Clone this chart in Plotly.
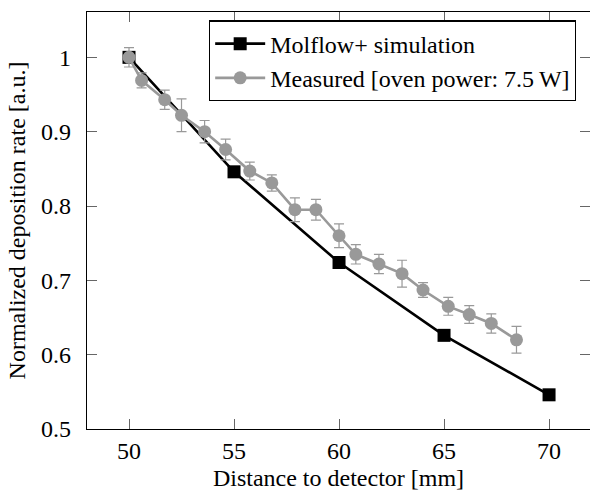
import plotly.graph_objects as go

# Simulation data
sim_x = [50, 55, 60, 65, 70]
sim_y = [1.0, 0.846, 0.724, 0.626, 0.546]

# Measured data
meas_x = [50.0, 50.6, 51.7, 52.5, 53.6, 54.6, 55.75, 56.8, 57.9, 58.9, 60.0,
          60.8, 61.9, 63.0, 64.0, 65.2, 66.2, 67.25, 68.45]
meas_y = [1.0, 0.969, 0.943, 0.922, 0.900, 0.876, 0.847, 0.831, 0.795, 0.795, 0.760,
          0.735, 0.722, 0.709, 0.687, 0.665, 0.654, 0.642, 0.620]
meas_err = [0.013, 0.010, 0.013, 0.022, 0.015, 0.014, 0.012, 0.011, 0.016, 0.014, 0.016,
            0.013, 0.013, 0.018, 0.010, 0.012, 0.012, 0.013, 0.018]

x_ticks = [50, 55, 60, 65, 70]
y_ticks = [0.5, 0.6, 0.7, 0.8, 0.9, 1.0]
y_tick_text = ["0.5", "0.6", "0.7", "0.8", "0.9", "1"]

FONT = "Liberation Serif"
GRAY = "#999999"
Y_RANGE = [0.5, 1.061]

fig = go.Figure()
fig.add_trace(go.Scatter(
    x=sim_x, y=sim_y, mode="lines+markers", name="Molflow+ simulation",
    line=dict(color="black", width=2.6),
    marker=dict(symbol="square", size=13, color="black"),
))
fig.add_trace(go.Scatter(
    x=meas_x, y=meas_y, mode="lines+markers", name="Measured [oven power: 7.5\u2009W]",
    line=dict(color=GRAY, width=2.6),
    marker=dict(symbol="circle", size=13, color=GRAY),
    error_y=dict(type="data", array=meas_err, visible=True, color=GRAY,
                 thickness=1.2, width=5),
))
# empty trace so the right-side tick axis is drawn
fig.add_trace(go.Scatter(x=[], y=[], yaxis="y2", showlegend=False, hoverinfo="skip"))

tick_style = dict(ticks="inside", ticklen=10, tickwidth=1, tickcolor="#666666",
                  showgrid=False, zeroline=False, automargin=False)

fig.update_layout(
    width=590, height=491,
    margin=dict(l=87, r=0, t=12, b=62),
    plot_bgcolor="white", paper_bgcolor="white",
    font=dict(family=FONT, size=24, color="black"),
    showlegend=True,
    legend=dict(
        x=0.2425, y=0.98, xanchor="left", yanchor="top",
        bordercolor="black", borderwidth=1.2, bgcolor="white",
        font=dict(family=FONT, size=24, color="black"),
        itemwidth=50, traceorder="normal", tracegroupgap=0,
    ),
    xaxis=dict(
        range=[48, 71.95], tickvals=x_ticks,
        showline=True, linecolor="black", linewidth=1.3, mirror="ticks",
        title=dict(text="Distance to detector [mm]", standoff=8,
                   font=dict(family=FONT, size=24, color="black")),
        ticklabelstandoff=0,
        tickfont=dict(family=FONT, size=24, color="black"),
        **tick_style,
    ),
    yaxis=dict(
        range=Y_RANGE, tickvals=y_ticks, ticktext=y_tick_text,
        showline=True, linecolor="black", linewidth=1.3, mirror=False,
        title=dict(text="Normalized deposition rate [a.u.]", standoff=8,
                   font=dict(family=FONT, size=24, color="black")),
        ticklabelstandoff=10,
        tickfont=dict(family=FONT, size=24, color="black"),
        **tick_style,
    ),
    yaxis2=dict(
        range=Y_RANGE, tickvals=y_ticks, overlaying="y", side="right",
        showline=False, showticklabels=False,
        **tick_style,
    ),
)

fig.write_html(
    "out.html",
    config={"displayModeBar": False},
    post_script="document.body.style.margin='0';document.body.style.overflow='hidden';",
)
